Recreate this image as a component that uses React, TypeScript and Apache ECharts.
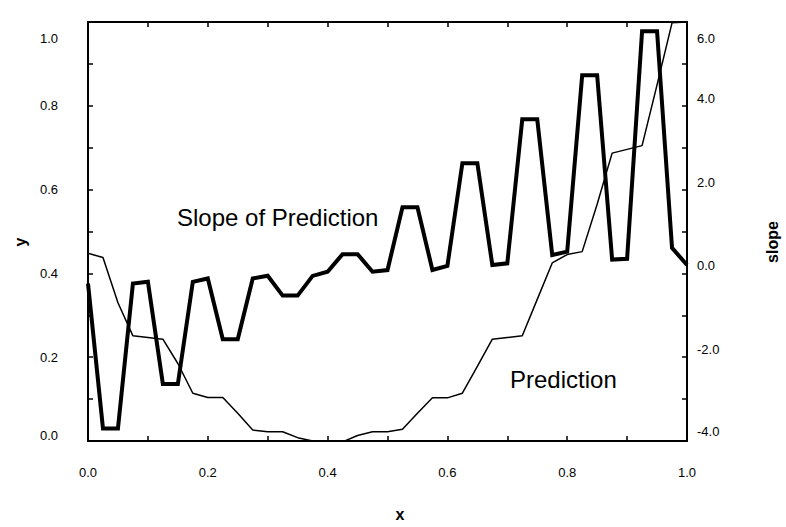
import React, { useEffect, useRef } from "react";
import * as echarts from "echarts";

const xValues = [
  0, 0.025, 0.05, 0.075, 0.1, 0.125, 0.15, 0.175, 0.2, 0.225,
  0.25, 0.275, 0.3, 0.325, 0.35, 0.375, 0.4, 0.425, 0.45, 0.475,
  0.5, 0.525, 0.55, 0.575, 0.6, 0.625, 0.65, 0.675, 0.7, 0.725,
  0.75, 0.775, 0.8, 0.825, 0.85, 0.875, 0.9, 0.925, 0.95, 0.975, 1.0,
];

const prediction = [
  0.448, 0.438, 0.33, 0.251, 0.247, 0.243, 0.185, 0.114, 0.104, 0.104,
  0.066, 0.026, 0.022, 0.022, 0.008, 0.0, -0.002, -0.002, 0.013, 0.022,
  0.022, 0.028, 0.066, 0.103, 0.103, 0.114, 0.178, 0.243, 0.247, 0.251,
  0.338, 0.425, 0.445, 0.452, 0.565, 0.687, 0.696, 0.705, 0.85, 0.998, 1.0,
];

const slope = [
  -0.24, -3.7, -3.7, -0.24, -0.2, -2.64, -2.64, -0.2, -0.12, -1.57,
  -1.57, -0.12, -0.055, -0.53, -0.53, -0.06, 0.04, 0.46, 0.46, 0.04,
  0.08, 1.58, 1.58, 0.08, 0.18, 2.63, 2.63, 0.2, 0.24, 3.68,
  3.68, 0.44, 0.52, 4.73, 4.73, 0.33, 0.35, 5.78, 5.78, 0.61, 0.2,
];

const xTicks = { min: 0, max: 1, interval: 0.2 };
const yTicks = { min: 0, max: 1, interval: 0.2 };
const slopeTicks = { min: -4, max: 6, interval: 2 };

const FONT = '"Liberation Sans", Arial, sans-serif';

export default function App() {
  const ref = useRef<HTMLDivElement>(null);

  useEffect(() => {
    if (!ref.current) return;
    const chart = echarts.init(ref.current, null, { renderer: "svg" });

    const tickCommon = {
      axisLine: { show: true, onZero: false, lineStyle: { color: "#000", width: 2 } },
      axisTick: { show: true, inside: true, length: 5, lineStyle: { color: "#000", width: 1.5 } },
      minorTick: { show: true, splitNumber: 2, length: 5, lineStyle: { color: "#000", width: 1.5 } },
      splitLine: { show: false },
      minorSplitLine: { show: false },
    };

    const base = { fontSize: 13, fontFamily: FONT, color: "#000" };

    chart.setOption({
      animation: false,
      backgroundColor: "#fff",
      grid: { left: 88, right: 99, top: 22, bottom: 86, containLabel: false },
      xAxis: [
        {
          type: "value",
          position: "bottom",
          ...xTicks,
          ...tickCommon,
          axisLabel: {
            ...base,
            margin: 25,
            formatter: (v: number) => v.toFixed(1),
          },
        },
        {
          type: "value",
          position: "top",
          ...xTicks,
          ...tickCommon,
          axisLabel: { show: false },
        },
      ],
      yAxis: [
        {
          type: "value",
          position: "left",
          ...yTicks,
          ...tickCommon,
          axisLabel: {
            ...base,
            margin: 30,
            formatter: (v: number) => {
              const t = v.toFixed(1);
              if (v >= yTicks.max) return `{hi|${t}}`;
              if (v <= yTicks.min) return `{lo|${t}}`;
              return `{n|${t}}`;
            },
            rich: {
              n: { ...base },
              hi: { ...base, lineHeight: 46, verticalAlign: "bottom" },
              lo: { ...base, lineHeight: 24, verticalAlign: "top" },
            },
          },
        },
        {
          type: "value",
          position: "right",
          ...slopeTicks,
          ...tickCommon,
          axisLabel: {
            ...base,
            margin: 10,
            formatter: (v: number) => {
              const t = v.toFixed(1);
              if (v >= slopeTicks.max) return `{hi|${t}}`;
              if (v <= slopeTicks.min) return `{lo|${t}}`;
              return `{n|${t}}`;
            },
            rich: {
              n: { ...base, lineHeight: 28, verticalAlign: "top" },
              hi: { ...base, lineHeight: 46, verticalAlign: "bottom" },
              lo: { ...base, lineHeight: 32, verticalAlign: "top" },
            },
          },
        },
      ],
      series: [
        {
          name: "Prediction",
          type: "line",
          xAxisIndex: 0,
          yAxisIndex: 0,
          showSymbol: false,
          symbol: "none",
          data: xValues.map((x, i) => [x, prediction[i]]),
          lineStyle: { color: "#000", width: 1.5 },
        },
        {
          name: "Slope of Prediction",
          type: "line",
          xAxisIndex: 0,
          yAxisIndex: 1,
          showSymbol: false,
          symbol: "none",
          data: xValues.map((x, i) => [x, slope[i]]),
          lineStyle: { color: "#000", width: 4, join: "miter", miterLimit: 6 },
        },
      ],
      graphic: [
        {
          type: "text",
          left: 177,
          top: 205,
          style: { text: "Slope of Prediction", font: `24px ${FONT}`, fill: "#000" },
        },
        {
          type: "text",
          left: 510,
          top: 367,
          style: { text: "Prediction", font: `24px ${FONT}`, fill: "#000" },
        },
        {
          type: "text",
          x: 400,
          y: 514,
          style: {
            text: "x",
            font: `bold 16px ${FONT}`,
            fill: "#000",
            textAlign: "center",
            textVerticalAlign: "middle",
          },
        },
        {
          type: "text",
          x: 20,
          y: 242,
          rotation: Math.PI / 2,
          style: {
            text: "y",
            font: `bold 16px ${FONT}`,
            fill: "#000",
            textAlign: "center",
            textVerticalAlign: "middle",
          },
        },
        {
          type: "text",
          x: 772,
          y: 242,
          rotation: Math.PI / 2,
          style: {
            text: "slope",
            font: `bold 16px ${FONT}`,
            fill: "#000",
            textAlign: "center",
            textVerticalAlign: "middle",
          },
        },
      ],
    });

    return () => chart.dispose();
  }, []);

  return (
    <div
      ref={ref}
      style={{ position: "fixed", left: 0, top: 0, width: 786, height: 527, background: "#fff" }}
    />
  );
}
